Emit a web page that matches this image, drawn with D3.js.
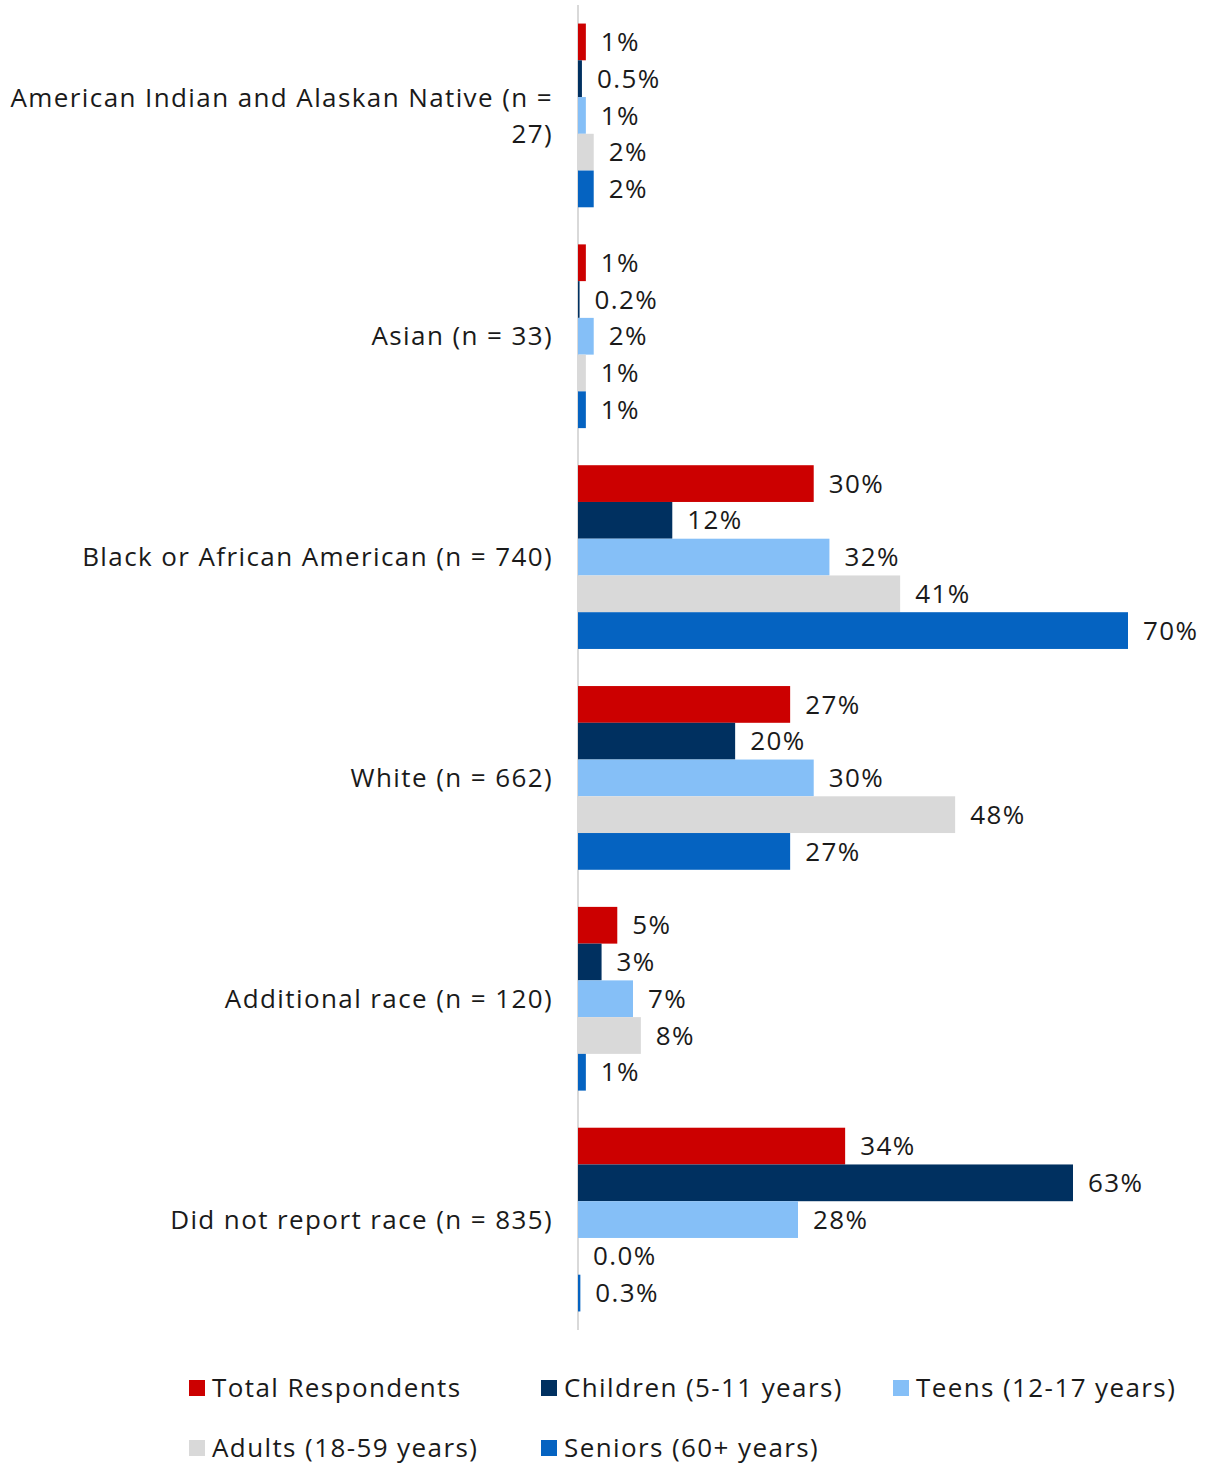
<!DOCTYPE html>
<html>
<head>
<meta charset="utf-8">
<script src="https://cdn.jsdelivr.net/npm/d3@7"></script>
<style>
  html, body { margin: 0; padding: 0; background: #fff; }
  svg { display: block; font-family: "Open Sans", "Lato", sans-serif; letter-spacing: 1.4px; }
</style>
</head>
<body>
<svg id="chart" width="1207" height="1465"></svg>
<script>
// Race / ethnicity groups (y categories), one line per array entry
const categories = [
  ["American Indian and Alaskan Native (n =", "27)"],
  ["Asian (n = 33)"],
  ["Black or African American (n = 740)"],
  ["White (n = 662)"],
  ["Additional race (n = 120)"],
  ["Did not report race (n = 835)"]
];

// Series names (legend order = bar order within a group)
const seriesNames = [
  "Total Respondents",
  "Children (5-11 years)",
  "Teens (12-17 years)",
  "Adults (18-59 years)",
  "Seniors (60+ years)"
];

// Percent values per series, in category order
const totalRespondents = [1, 1, 30, 27, 5, 34];
const children        = [0.5, 0.2, 12, 20, 3, 63];
const teens           = [1, 2, 32, 30, 7, 28];
const adults          = [2, 1, 41, 48, 8, 0.0];
const seniors         = [2, 1, 70, 27, 1, 0.3];

const seriesValues = [totalRespondents, children, teens, adults, seniors];
const seriesColors = ["#CC0000", "#003060", "#85BFF7", "#D9D9D9", "#0563C1"];

const svg = d3.select("#chart");
const FONT = 26;

const plotLeft = 578, plotTop = 5, plotBottom = 1330;

const y0 = d3.scaleBand()
  .domain(d3.range(categories.length))
  .range([plotTop, plotBottom])
  .paddingInner(0.168)
  .paddingOuter(0.084);

const y1 = d3.scaleBand()
  .domain(d3.range(seriesNames.length))
  .range([0, y0.bandwidth()]);

const x = d3.scaleLinear().domain([0, 70]).range([plotLeft, 1128]);

const fmt = v => (v < 1 ? v.toFixed(1) : d3.format(".0f")(v)) + "%";

// Category axis line
svg.append("line")
  .attr("x1", plotLeft).attr("x2", plotLeft)
  .attr("y1", plotTop).attr("y2", plotBottom)
  .attr("stroke", "#D9D9D9").attr("stroke-width", 2);

// Bars and value labels
const groups = svg.selectAll("g.group")
  .data(categories)
  .join("g")
  .attr("class", "group")
  .attr("transform", (d, i) => `translate(0,${y0(i)})`);

seriesValues.forEach((vals, s) => {
  groups.append("rect")
    .attr("x", x(0))
    .attr("y", y1(s))
    .attr("width", (d, i) => Math.max(0, x(vals[i]) - x(0)))
    .attr("height", y1.bandwidth())
    .attr("fill", seriesColors[s]);

  groups.append("text")
    .attr("x", (d, i) => x(vals[i]) + 15)
    .attr("y", y1(s) + y1.bandwidth() / 2)
    .attr("dy", "0.35em")
    .attr("font-size", FONT)
    .attr("fill", "#1a1a1a")
    .text((d, i) => fmt(vals[i]));
});

// Category labels, right-aligned to the left of the axis
groups.append("text")
  .attr("text-anchor", "end")
  .attr("font-size", FONT)
  .attr("fill", "#1a1a1a")
  .each(function(lines) {
    const t = d3.select(this);
    const lh = 36;
    const start = y0.bandwidth() / 2 - (lines.length - 1) * lh / 2;
    lines.forEach((ln, k) => {
      t.append("tspan")
        .attr("x", 553)
        .attr("y", start + k * lh)
        .attr("dy", "0.35em")
        .text(ln);
    });
  });

// Legend
const legendPos = [[189, 1388], [541, 1388], [893, 1388], [189, 1448], [541, 1448]];
const legend = svg.selectAll("g.legend")
  .data(seriesNames)
  .join("g")
  .attr("class", "legend")
  .attr("transform", (d, i) => `translate(${legendPos[i][0]},${legendPos[i][1]})`);

legend.append("rect")
  .attr("x", 0).attr("y", -8)
  .attr("width", 16).attr("height", 16)
  .attr("fill", (d, i) => seriesColors[i]);

legend.append("text")
  .attr("x", 23)
  .attr("dy", "0.35em")
  .attr("font-size", FONT)
  .attr("fill", "#1a1a1a")
  .text(d => d);
</script>
</body>
</html>
